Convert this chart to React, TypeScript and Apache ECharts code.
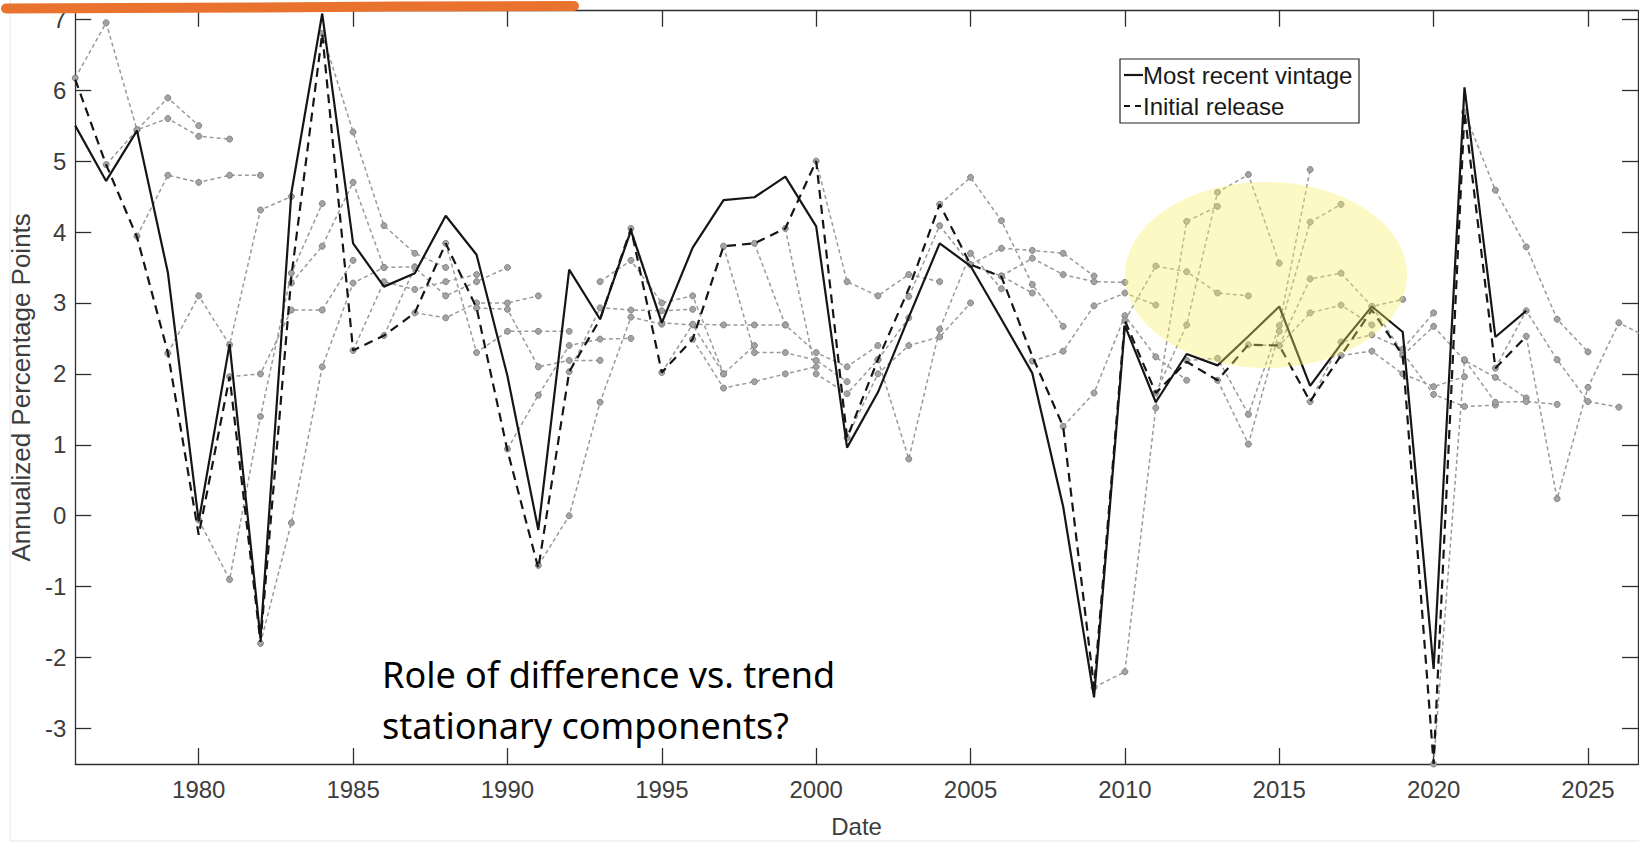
import React, { useEffect, useRef } from "react";
import * as echarts from "echarts";

// Annual real output growth, annualized percentage points, 1976-2023
const firstYear = 1976;

const mostRecentVintage = [
  5.5, 4.72, 5.43, 3.43, -0.08, 2.42, -1.73, 4.55, 7.08, 3.84,
  3.23, 3.42, 4.23, 3.68, 1.97, -0.2, 3.47, 2.77, 4.02, 2.72,
  3.78, 4.45, 4.49, 4.78, 4.08, 0.96, 1.74, 2.8, 3.84, 3.52,
  2.77, 2.01, 0.13, -2.56, 2.68, 1.6, 2.28, 2.12, 2.53, 2.95,
  1.83, 2.42, 2.95, 2.59, -2.16, 6.04, 2.52, 2.89,
];

const initialRelease = [
  6.15, 4.95, 3.93, 2.3, -0.27, 1.96, -1.78, 3.37, 6.8, 2.33,
  2.54, 2.86, 3.84, 2.93, 0.92, -0.74, 2.03, 2.77, 4.05, 2.02,
  2.49, 3.8, 3.84, 4.05, 5.0, 1.1, 2.2, 3.2, 4.39, 3.54,
  3.37, 2.25, 1.26, -2.42, 2.75, 1.73, 2.17, 1.91, 2.41, 2.4,
  1.61, 2.26, 2.9, 2.26, -3.5, 5.69, 2.08, 2.53,
];

// One five-year path per origin year, first row starts in 1976
const forecastPaths = [
  [6.17, 6.95, 5.44, 5.89, 5.5],
  [4.95, 5.44, 5.6, 5.35, 5.31],
  [3.94, 4.8, 4.7, 4.8, 4.8],
  [2.29, 3.1, 2.41, 4.31, 4.5],
  [-0.06, -0.9, 1.4, 3.42, 4.4],
  [1.96, 2.0, 2.9, 2.9, 3.6],
  [-1.8, -0.1, 2.1, 3.28, 3.5],
  [3.28, 3.8, 4.7, 3.5, 3.51],
  [6.8, 5.41, 4.09, 3.7, 3.5],
  [2.33, 3.3, 3.19, 3.3, 3.4],
  [2.54, 3.5, 3.1, 3.3, 3.5],
  [2.86, 2.79, 3.0, 3.0, 3.1],
  [3.84, 2.3, 2.6, 2.6, 2.6],
  [2.93, 2.91, 2.1, 2.19, 2.19],
  [0.94, 1.7, 2.4, 2.49, 2.5],
  [-0.7, 0.0, 1.6, 2.8, 2.7],
  [2.03, 2.93, 2.9, 2.89, 2.91],
  [3.3, 3.6, 3.0, 3.1, 2.0],
  [4.05, 2.72, 2.69, 2.0, 2.4],
  [2.02, 2.7, 2.69, 2.69, 2.69],
  [2.49, 1.8, 1.89, 2.0, 2.1],
  [3.8, 2.3, 2.3, 2.19, 1.89],
  [3.84, 2.69, 2.3, 2.1, 2.4],
  [4.05, 2.0, 1.72, 2.2, 2.79],
  [5.0, 3.3, 3.1, 3.4, 3.3],
  [1.1, 2.0, 2.4, 2.52, 3.0],
  [2.2, 0.8, 2.63, 3.7, 3.2],
  [3.09, 4.09, 3.54, 3.38, 3.14],
  [4.39, 4.77, 4.16, 3.26, 2.67],
  [3.54, 3.77, 3.74, 3.7, 3.38],
  [3.38, 3.63, 3.4, 3.3, 3.29],
  [2.18, 2.32, 2.96, 3.14, 2.97],
  [1.26, 1.73, 2.82, 2.24, 1.91],
  [-2.42, -2.2, 1.52, 4.15, 4.36],
  [2.75, 3.52, 3.44, 3.14, 3.1],
  [1.73, 2.69, 4.56, 4.81, 3.56],
  [2.19, 2.22, 1.43, 2.68, 4.88],
  [1.91, 1.01, 2.6, 4.14, 4.39],
  [2.41, 2.4, 2.86, 2.97, 2.69],
  [2.4, 3.34, 3.42, 2.95, 3.05],
  [1.61, 2.45, 2.55, 2.35, 2.86],
  [2.26, 2.32, 2.0, 1.82, 1.96],
  [2.95, 2.3, 1.71, 1.54, 1.56],
  [2.26, 2.67, 2.19, 1.95, 1.66],
  [-3.5, 2.2, 1.6, 1.61, 1.57],
  [5.69, 4.59, 3.79, 2.77, 2.31],
  [2.08, 2.89, 2.2, 1.61, 1.53],
  [2.53, 0.24, 1.81, 2.72, 2.5],
];

const yearTicks = [1980, 1985, 1990, 1995, 2000, 2005, 2010, 2015, 2020, 2025];
const valueTicks = [-3, -2, -1, 0, 1, 2, 3, 4, 5, 6, 7];

const legendLabels = ["Most recent vintage", "Initial release"];
const noteLines = "Role of difference vs. trend\nstationary components?";

const AXIS_FONT = '"Liberation Sans", Arial, Helvetica, sans-serif';
const AXIS_COLOR = "#2e2e2e";
const LABEL_COLOR = "#3d3d3d";

const X_MIN = 1976;
const X_MAX = 2026.62;
const Y_MIN = -3.5;
const Y_MAX = 7.12;

function toPoints(values: number[], start: number): [number, number][] {
  return values.map((v, i) => [start + i, v]);
}

export default function App() {
  const ref = useRef<HTMLDivElement>(null);

  useEffect(() => {
    document.body.style.margin = "0";
    if (!ref.current) return;
    const chart = echarts.init(ref.current, null, { renderer: "svg" });

    const pathSeries = forecastPaths.map((vals, idx) => ({
      type: "line",
      data: toPoints(vals, firstYear + idx),
      xAxisIndex: 0,
      yAxisIndex: 0,
      symbol: "circle",
      symbolSize: 6,
      showSymbol: true,
      silent: true,
      z: 2,
      lineStyle: { color: "#9a9a9a", width: 1.5, type: [4, 3] },
      itemStyle: { color: "#a3a3a3", borderColor: "#858585", borderWidth: 1 },
    }));

    const axisLineStyle = { color: AXIS_COLOR, width: 1.3 };
    const tickCommon = { show: true, inside: true, length: 16, lineStyle: axisLineStyle };

    chart.setOption({
      animation: false,
      backgroundColor: "#ffffff",
      grid: { left: 71.6, right: 1, top: 10.7, bottom: 68.5 },
      xAxis: [
        {
          type: "value",
          min: X_MIN,
          max: X_MAX,
          position: "bottom",
          axisLine: { show: true, onZero: false, lineStyle: axisLineStyle },
          axisTick: { ...tickCommon, customValues: yearTicks },
          axisLabel: {
            customValues: yearTicks,
            formatter: (v: number) => String(v),
            fontSize: 24,
            color: LABEL_COLOR,
            fontFamily: AXIS_FONT,
            margin: 13,
          },
          splitLine: { show: false },
          name: "Date",
          nameLocation: "middle",
          nameGap: 50,
          nameTextStyle: { fontSize: 24, color: LABEL_COLOR, fontFamily: AXIS_FONT },
        },
        {
          type: "value",
          min: X_MIN,
          max: X_MAX,
          position: "top",
          axisLine: { show: true, onZero: false, lineStyle: axisLineStyle },
          axisTick: { ...tickCommon, customValues: yearTicks },
          axisLabel: { show: false },
          splitLine: { show: false },
        },
      ],
      yAxis: [
        {
          type: "value",
          min: Y_MIN,
          max: Y_MAX,
          position: "left",
          axisLine: { show: true, onZero: false, lineStyle: axisLineStyle },
          axisTick: { ...tickCommon, customValues: valueTicks },
          axisLabel: {
            customValues: valueTicks,
            formatter: (v: number) => String(v),
            fontSize: 24,
            color: LABEL_COLOR,
            fontFamily: AXIS_FONT,
            margin: 9,
          },
          splitLine: { show: false },
          name: "Annualized Percentage Points",
          nameLocation: "middle",
          nameGap: 36,
          nameTextStyle: { fontSize: 26, color: LABEL_COLOR, fontFamily: AXIS_FONT },
        },
        {
          type: "value",
          min: Y_MIN,
          max: Y_MAX,
          position: "right",
          axisLine: { show: true, onZero: false, lineStyle: axisLineStyle },
          axisTick: { ...tickCommon, customValues: valueTicks },
          axisLabel: { show: false },
          splitLine: { show: false },
        },
      ],
      series: [
        ...pathSeries,
        {
          name: legendLabels[1],
          type: "line",
          data: toPoints(initialRelease, firstYear),
          symbol: "none",
          silent: true,
          z: 3,
          lineStyle: { color: "#151515", width: 2.2, type: [9, 6] },
        },
        {
          name: legendLabels[0],
          type: "line",
          data: toPoints(mostRecentVintage, firstYear),
          symbol: "none",
          silent: true,
          z: 4,
          lineStyle: { color: "#151515", width: 2.2 },
        },
      ],
      graphic: [
        // faint slide frame
        {
          type: "line",
          silent: true,
          z: 90,
          shape: { x1: 10, y1: 0, x2: 10, y2: 841 },
          style: { stroke: "#e8e8e8", lineWidth: 1 },
        },
        {
          type: "line",
          silent: true,
          z: 90,
          shape: { x1: 10, y1: 841, x2: 1639, y2: 841 },
          style: { stroke: "#e8e8e8", lineWidth: 1 },
        },
        // highlight over the 2010s recovery
        {
          type: "ellipse",
          silent: true,
          z: 100,
          shape: { cx: 1266, cy: 275, rx: 141, ry: 93 },
          style: { fill: "rgba(250, 240, 100, 0.38)" },
        },
        // legend box
        {
          type: "group",
          silent: true,
          z: 110,
          children: [
            {
              type: "rect",
              z: 110,
              shape: { x: 1120, y: 59, width: 239, height: 64 },
              style: { fill: "#ffffff", stroke: "#262626", lineWidth: 1.2 },
            },
            {
              type: "line",
              z: 111,
              shape: { x1: 1124, y1: 75, x2: 1143, y2: 75 },
              style: { stroke: "#151515", lineWidth: 2.2 },
            },
            {
              type: "line",
              z: 111,
              shape: { x1: 1124, y1: 106, x2: 1143, y2: 106 },
              style: { stroke: "#151515", lineWidth: 2.2, lineDash: [6, 5] },
            },
            {
              type: "text",
              z: 111,
              x: 1143,
              y: 75,
              style: {
                text: legendLabels[0],
                font: '24px "Liberation Sans", Arial, sans-serif',
                fill: "#1a1a1a",
                align: "left",
                verticalAlign: "middle",
              },
            },
            {
              type: "text",
              z: 111,
              x: 1143,
              y: 106,
              style: {
                text: legendLabels[1],
                font: '24px "Liberation Sans", Arial, sans-serif',
                fill: "#1a1a1a",
                align: "left",
                verticalAlign: "middle",
              },
            },
          ],
        },
        // annotation
        {
          type: "text",
          silent: true,
          z: 120,
          x: 382,
          y: 649,
          style: {
            text: noteLines,
            font: '36px "Noto Sans", "Open Sans", sans-serif',
            lineHeight: 51,
            fill: "#000000",
            align: "left",
            verticalAlign: "top",
          },
        },
        // hand-drawn orange stroke along the top
        {
          type: "polyline",
          silent: true,
          z: 130,
          shape: {
            points: [
              [6, 8.5],
              [120, 8],
              [260, 7.5],
              [400, 6.5],
              [574, 6],
            ],
          },
          style: {
            stroke: "#E8722E",
            lineWidth: 10,
            lineCap: "round",
            lineJoin: "round",
            fill: null,
          },
        },
      ],
    });

    return () => {
      chart.dispose();
    };
  }, []);

  return <div ref={ref} style={{ width: 1639, height: 843 }} />;
}
